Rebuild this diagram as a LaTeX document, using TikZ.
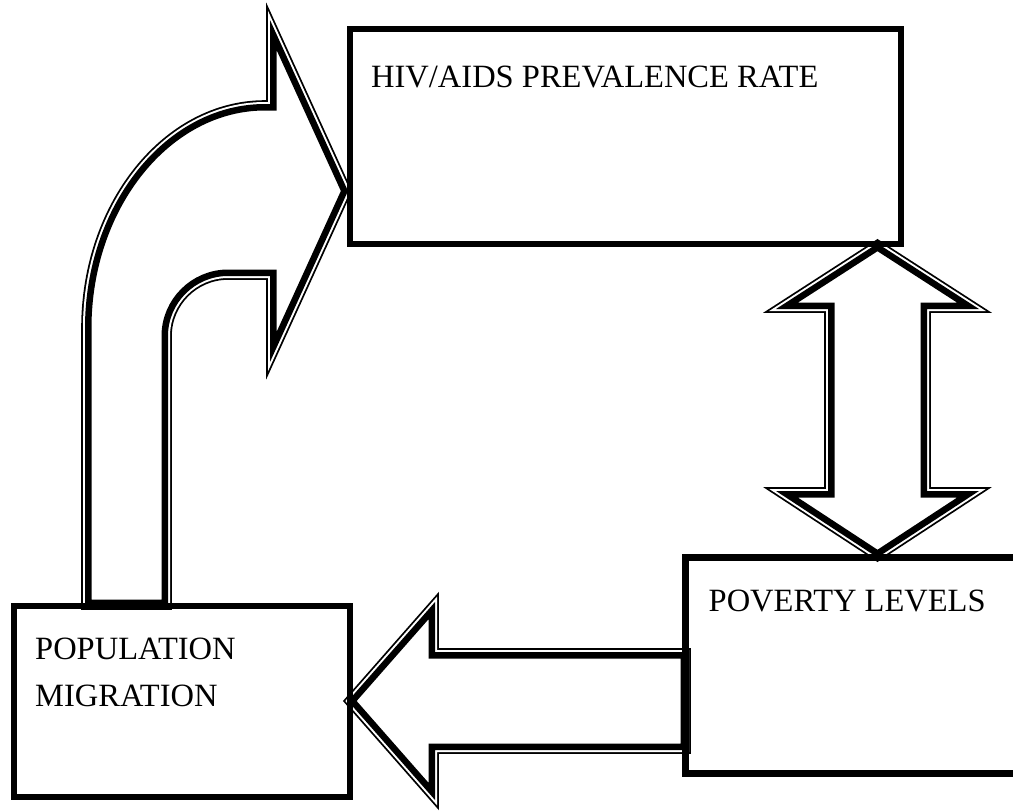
\documentclass[tikz,border=0pt]{standalone}
\usepackage{fontspec}
\setmainfont{Liberation Serif}
% Block-arrow outline: thick line on the inside, thin line outside, white gap between.
\newcommand\compoundoutline[1]{%
  \draw[black, line width=7.6pt] #1;
  \draw[white, line width=4pt] #1;
  \begin{scope}
    \clip #1;
    \draw[black, line width=13pt] #1;
  \end{scope}}
\begin{document}
\begin{tikzpicture}[x=1pt, y=-1pt,
  framebox/.style={draw, line width=6pt, rectangle, inner sep=0pt},
  boxtext/.style={anchor=base west, inner sep=0pt, font=\fontsize{32.5}{39}\selectfont}]
\useasboundingbox (0,0) rectangle (1013,811);
\clip (0,0) rectangle (1013,811);

% Bent arrow: population migration -> HIV/AIDS prevalence
\compoundoutline{(85,606) -- (85,328) .. controls (85,205) and (166,104) .. (265,104)
  -- (270,104) -- (270,20) -- (348,191) -- (270,362) -- (270,276) -- (228,276)
  .. controls (195,276) and (168,303) .. (168,336) -- (168,606) -- cycle}

% Two-headed arrow: HIV/AIDS prevalence <-> poverty levels
\compoundoutline{(877.5,243.5) -- (979,309) -- (927,309) -- (927,491) -- (979,491)
  -- (877.5,557.5) -- (776,491) -- (828,491) -- (828,309) -- (776,309) -- cycle}

% Left arrow: poverty levels -> population migration
\compoundoutline{(687,652) -- (435,652) -- (435,602) -- (348,701) -- (435,800)
  -- (435,750) -- (687,750) -- cycle}

% Boxes
\node[framebox, minimum width=550.5pt, minimum height=215.5pt] (hiv) at (625.25,136.25) {};
\node[framebox, line width=7pt, minimum width=345pt, minimum height=216pt] (poverty) at (857.5,665) {};
\node[framebox, minimum width=335.5pt, minimum height=191.5pt] (population) at (181.75,701.25) {};

% Labels
\node[boxtext] (hivlabel) at (371,87) {HIV/AIDS PREVALENCE RATE};
\node[boxtext] (povertylabel) at (708.5,611) {POVERTY LEVELS};
\node[boxtext] (poplabela) at (35,659) {POPULATION};
\node[boxtext] (poplabelb) at (35,706.7) {MIGRATION};
\end{tikzpicture}
\end{document}
